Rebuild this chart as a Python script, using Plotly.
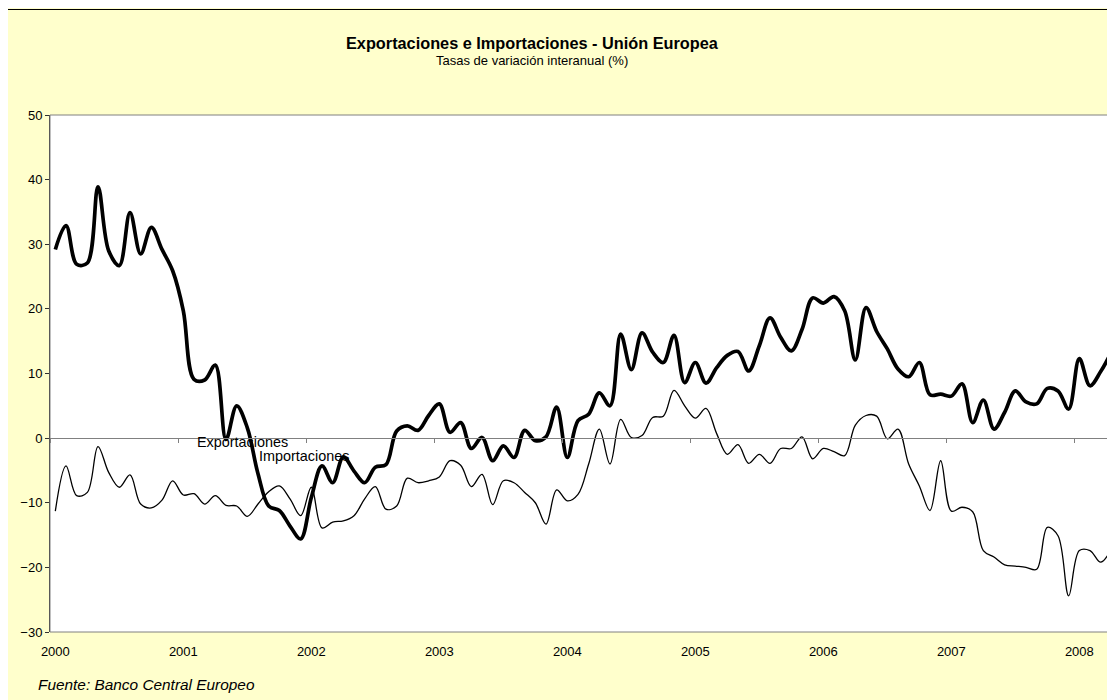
import plotly.graph_objects as go

# ---------------- data ----------------
years = ["2000", "2001", "2002", "2003", "2004", "2005", "2006", "2007", "2008"]

exports = [29.2, 32.9, 26.9, 27.1, 38.9, 29.0, 26.7, 34.9, 28.5, 32.6,
           29.2, 25.9, 19.7, 9.1, 9.0, 11.3, -0.2, 5.0, 1.6, -5.5,
           -10.5, -11.2, -13.6, -15.6, -9.2, -4.3, -6.9, -2.9, -5.1, -6.9,
           -4.5, -4.1, 1.1, 1.9, 1.2, 3.5, 5.3, 0.9, 2.4, -1.6,
           0.1, -3.5, -1.2, -3.0, 1.2, -0.4, 0.2, 4.8, -3.0, 2.7,
           3.7, 7.0, 5.0, 16.1, 10.6, 16.3, 13.3, 11.7, 15.9, 8.6,
           11.7, 8.5, 10.9, 12.8, 13.4, 10.4, 14.3, 18.6, 15.6, 13.5,
           16.8, 21.7, 20.9, 21.9, 19.7, 12.1, 20.2, 16.5, 13.8, 10.7,
           9.5, 11.7, 6.7, 6.8, 6.5, 8.4, 2.4, 5.9, 1.4, 4.0,
           7.3, 5.6, 5.3, 7.7, 7.3, 4.5, 12.3, 8.1, 10.3, 13.3]

imports = [-11.3, -4.3, -8.9, -8.4, -1.3, -5.3, -7.6, -5.7, -10.2, -10.8,
           -9.6, -6.6, -8.8, -8.6, -10.2, -8.9, -10.4, -10.5, -12.1, -10.2,
           -8.3, -7.4, -9.4, -12.0, -7.6, -13.9, -13.0, -12.8, -12.0, -9.4,
           -7.5, -11.0, -10.5, -6.2, -6.9, -6.6, -6.0, -3.5, -4.2, -7.5,
           -5.6, -10.3, -6.6, -6.9, -8.4, -10.0, -13.3, -8.0, -9.7, -8.7,
           -4.0, 1.4, -4.0, 2.9, 0.1, 0.4, 3.2, 3.4, 7.4, 5.0,
           3.1, 4.6, 0.7, -2.5, -1.0, -3.9, -2.5, -3.9, -1.6, -1.6,
           0.2, -3.2, -1.6, -2.1, -2.7, 2.0, 3.5, 3.4, -0.1, 1.4,
           -4.0, -7.4, -11.2, -3.5, -11.3, -10.7, -11.4, -17.4, -18.4, -19.6,
           -19.8, -20.0, -20.3, -13.8, -15.1, -24.4, -17.4, -17.4, -19.2, -17.2]

months = list(range(len(exports)))
series_labels = ["Exportaciones", "Importaciones"]

# ---------------- layout helpers (screen pixel positions) ----------------
OFF = 8                      # page body margin
SW, SH = 1115, 700           # browser window
W, H = SW - OFF, SH - OFF    # figure size
S_L, S_T, S_B = 50, 115, 632  # plot area edges on screen
L, T = S_L - OFF, S_T - OFF
B = H - (S_B - OFF)
R = 0
pw, ph = W - L - R, H - T - B
FONT = "Liberation Sans, Arial, sans-serif"


def px(xs):
    return (xs - OFF - L) / pw


def py(ys):
    return (H - B - (ys - OFF)) / ph


month_px = 128 / 12.0
xr = [-0.5, -0.5 + pw / month_px]
yr = [-30, 50]

fig = go.Figure()

fig.add_trace(go.Scatter(
    x=months, y=imports, mode="lines", name=series_labels[1],
    line=dict(color="black", width=1.3, shape="spline", smoothing=1.0),
    hoverinfo="skip", showlegend=False))
fig.add_trace(go.Scatter(
    x=months, y=exports, mode="lines", name=series_labels[0],
    line=dict(color="black", width=3.7, shape="spline", smoothing=1.0),
    hoverinfo="skip", showlegend=False))
# carrier trace for the category axis drawn across y = 0
fig.add_trace(go.Scatter(x=months, y=exports, xaxis="x2", mode="none",
                         hoverinfo="skip", showlegend=False))

zero_pos = (0 - yr[0]) / (yr[1] - yr[0])

fig.update_layout(
    width=W, height=H,
    margin=dict(l=L, r=R, t=T, b=B, pad=0),
    paper_bgcolor="#FFFFCC",
    plot_bgcolor="white",
    font=dict(family=FONT, size=13, color="black"),
    xaxis=dict(
        range=xr, showgrid=False, zeroline=False, showline=False,
        tickmode="array", tickvals=months[::12], ticktext=years,
        ticks="", tickfont=dict(size=13), ticklabelstandoff=10,
    ),
    xaxis2=dict(
        range=xr, overlaying="x", anchor="free", position=zero_pos,
        showgrid=False, zeroline=False, showline=True, linecolor="#808080",
        linewidth=1, tickmode="array",
        tickvals=[m - 0.5 for m in months[::12]],
        ticks="outside", ticklen=4, tickcolor="#808080", showticklabels=False,
    ),
    yaxis=dict(
        range=yr, dtick=10, showgrid=False, zeroline=False,
        showline=True, linecolor="#303030", linewidth=1,
        ticks="outside", ticklen=4, tickcolor="#303030",
        tickfont=dict(size=13),
    ),
    showlegend=False,
)

shapes = [
    # chart area border
    dict(type="rect", xref="paper", yref="paper", x0=px(7.5), x1=px(SW + 20),
         y0=py(SH + 20), y1=py(9.5), fillcolor="rgba(0,0,0,0)",
         line=dict(color="black", width=1), layer="below"),
    # plot area border (top / bottom / right)
    dict(type="rect", xref="paper", yref="paper", x0=0, x1=1, y0=0, y1=1,
         fillcolor="rgba(0,0,0,0)", line=dict(color="#808080", width=1),
         layer="above"),
]
fig.update_layout(shapes=shapes)

annotations = [
    dict(text="<b>Exportaciones e Importaciones - Unión Europea</b>",
         xref="paper", yref="paper", x=px(532), y=py(43),
         xanchor="center", yanchor="middle", showarrow=False,
         font=dict(size=16.3, family=FONT, color="black")),
    dict(text="Tasas de variación interanual (%)",
         xref="paper", yref="paper", x=px(532), y=py(61),
         xanchor="center", yanchor="middle", showarrow=False,
         font=dict(size=13, family=FONT, color="black")),
    dict(text="<i>Fuente: Banco Central Europeo</i>",
         xref="paper", yref="paper", x=px(35.5), y=py(684.5),
         xanchor="left", yanchor="middle", showarrow=False,
         font=dict(size=15.4, family=FONT, color="black")),
    dict(text=series_labels[0], x=17.5, y=-0.6, xref="x", yref="y",
         xanchor="center", yanchor="middle", showarrow=False,
         font=dict(size=14.4, family=FONT, color="black")),
    dict(text=series_labels[1], x=23.3, y=-2.75, xref="x", yref="y",
         xanchor="center", yanchor="middle", showarrow=False,
         font=dict(size=14.4, family=FONT, color="black")),
]
fig.update_layout(annotations=annotations)

fig.write_html("out.html")
